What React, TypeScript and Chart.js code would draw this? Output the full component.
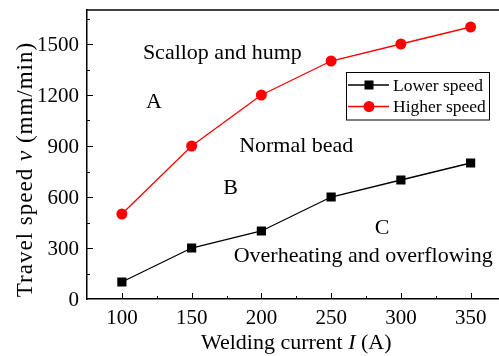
import React, { useEffect, useRef } from "react";
import { Chart, registerables } from "chart.js";

Chart.register(...registerables);

const currents = [100, 150, 200, 250, 300, 350];
const lowerSpeed = [100, 300, 400, 600, 700, 800];
const higherSpeed = [500, 900, 1200, 1400, 1500, 1600];
const xTicks = [100, 150, 200, 250, 300, 350];
const yTicks = [0, 300, 600, 900, 1200, 1500];
const regionLabels = ["Scallop and hump", "A", "Normal bead", "B", "C", "Overheating and overflowing"];
const regionX = [172, 123, 225, 178, 286.5, 273];
const regionY = [1409, 1121, 863, 616, 382, 217];
const seriesNames = ["Lower speed", "Higher speed"];

const FONT = '"Liberation Serif", "Times New Roman", serif';

function drawRich(ctx: any, parts: [string, boolean][], cx: number, cy: number, size: number, spacing = 0) {
  ctx.letterSpacing = `${spacing}px`;
  let total = 0;
  const widths: number[] = [];
  for (const [t, it] of parts) {
    ctx.font = `${it ? "italic " : ""}${size}px ${FONT}`;
    const w = ctx.measureText(t).width;
    widths.push(w);
    total += w;
  }
  let xx = cx - total / 2;
  ctx.textAlign = "left";
  ctx.textBaseline = "alphabetic";
  parts.forEach(([t, it], i) => {
    ctx.font = `${it ? "italic " : ""}${size}px ${FONT}`;
    ctx.fillText(t, xx, cy);
    xx += widths[i];
  });
  ctx.letterSpacing = "0px";
}

const decor = {
  id: "decor",
  afterDraw(chart: any) {
    const { ctx, chartArea: a, scales } = chart;
    const x = scales.x;
    const y = scales.y;
    ctx.save();
    ctx.strokeStyle = "#000";
    ctx.fillStyle = "#000";
    ctx.lineWidth = 1.5;
    ctx.beginPath();
    ctx.moveTo(a.left, a.top);
    ctx.lineTo(a.right, a.top);
    ctx.stroke();

    ctx.lineWidth = 1;
    const seg = (x1: number, y1: number, x2: number, y2: number) => {
      ctx.beginPath();
      ctx.moveTo(x1, y1);
      ctx.lineTo(x2, y2);
      ctx.stroke();
    };
    for (const v of xTicks) {
      const px = Math.round(x.getPixelForValue(v)) + 0.5;
      seg(px, a.bottom, px, a.bottom - 6);
      const pm = Math.round(x.getPixelForValue(v + 25)) + 0.5;
      seg(pm, a.bottom, pm, a.bottom - 3);
    }
    for (const v of yTicks) {
      if (v > 0) {
        const py = Math.round(y.getPixelForValue(v)) + 0.5;
        seg(a.left, py, a.left + 6, py);
      }
      const pm = Math.round(y.getPixelForValue(v + 150)) + 0.5;
      seg(a.left, pm, a.left + 3, pm);
    }

    // tick labels
    ctx.font = `21px ${FONT}`;
    ctx.textBaseline = "alphabetic";
    ctx.textAlign = "center";
    for (const v of xTicks) {
      ctx.fillText(String(v), x.getPixelForValue(v), a.bottom + 25);
    }
    ctx.textAlign = "right";
    for (const v of yTicks) {
      ctx.fillText(String(v), a.left - 8, y.getPixelForValue(v) + 7);
    }

    // region annotations
    ctx.font = `22px ${FONT}`;
    ctx.textAlign = "center";
    ctx.textBaseline = "alphabetic";
    regionLabels.forEach((t, i) => {
      ctx.fillText(t, x.getPixelForValue(regionX[i]), y.getPixelForValue(regionY[i]));
    });

    // legend
    const lx = 346.5, ly = 72.5, lw = 143, lh = 47.5;
    ctx.lineWidth = 1;
    ctx.strokeRect(lx, ly, lw, lh);
    const rows = [
      { color: "#000", shape: "square", y: 85 },
      { color: "#ff0000", shape: "circle", y: 106.5 },
    ];
    rows.forEach((r, i) => {
      ctx.strokeStyle = r.color;
      ctx.fillStyle = r.color;
      ctx.lineWidth = 1.5;
      seg(348, r.y, 389, r.y);
      if (r.shape === "square") {
        ctx.fillRect(369 - 4.5, r.y - 4.5, 9, 9);
      } else {
        ctx.beginPath();
        ctx.arc(369, r.y, 5.5, 0, Math.PI * 2);
        ctx.fill();
      }
      ctx.fillStyle = "#000";
      ctx.font = `17.5px ${FONT}`;
      ctx.textAlign = "left";
      ctx.textBaseline = "middle";
      ctx.fillText(seriesNames[i], 393, r.y + 1);
    });

    // axis titles
    ctx.fillStyle = "#000";
    drawRich(ctx, [["Welding current ", false], ["I", true], [" (A)", false]], (a.left + a.right) / 2, 349, 22);
    ctx.save();
    ctx.translate(32, 169.5);
    ctx.rotate(-Math.PI / 2);
    drawRich(ctx, [["Travel speed ", false], ["v", true], [" (mm/min)", false]], 0, 0, 23, 1);
    ctx.restore();

    ctx.restore();
  },
};

export default function App() {
  const ref = useRef<HTMLCanvasElement | null>(null);
  useEffect(() => {
    if (!ref.current) return;
    const chart = new Chart(ref.current, {
      type: "line",
      data: {
        datasets: [
          {
            label: seriesNames[0],
            data: currents.map((c, i) => ({ x: c, y: lowerSpeed[i] })),
            borderColor: "#000",
            backgroundColor: "#000",
            borderWidth: 1.3,
            pointStyle: "rect",
            pointRadius: 6.5,
            pointBorderWidth: 0,
          },
          {
            label: seriesNames[1],
            data: currents.map((c, i) => ({ x: c, y: higherSpeed[i] })),
            borderColor: "#ff0000",
            backgroundColor: "#ff0000",
            borderWidth: 1.3,
            pointStyle: "circle",
            pointRadius: 5.5,
            pointBorderWidth: 0,
          },
        ],
      },
      options: {
        responsive: false,
        animation: false,
        layout: { padding: { left: 79, top: 10, right: 14.5, bottom: 49 } },
        plugins: { legend: { display: false }, tooltip: { enabled: false } },
        scales: {
          x: {
            type: "linear",
            min: 75,
            max: 375,
            grid: { display: false },
            border: { display: true, color: "#000", width: 1.5 },
            ticks: { display: false },
          },
          y: {
            type: "linear",
            min: 0,
            max: 1700,
            grid: { display: false },
            border: { display: true, color: "#000", width: 1.5 },
            ticks: { display: false },
          },
        },
      },
      plugins: [decor],
    });
    return () => chart.destroy();
  }, []);
  return (
    <div style={{ position: "fixed", left: 0, top: 0, width: 499, height: 356, overflow: "hidden", background: "#fff" }}>
      <canvas ref={ref} width={520} height={356} style={{ display: "block", width: 520, height: 356 }} />
    </div>
  );
}
